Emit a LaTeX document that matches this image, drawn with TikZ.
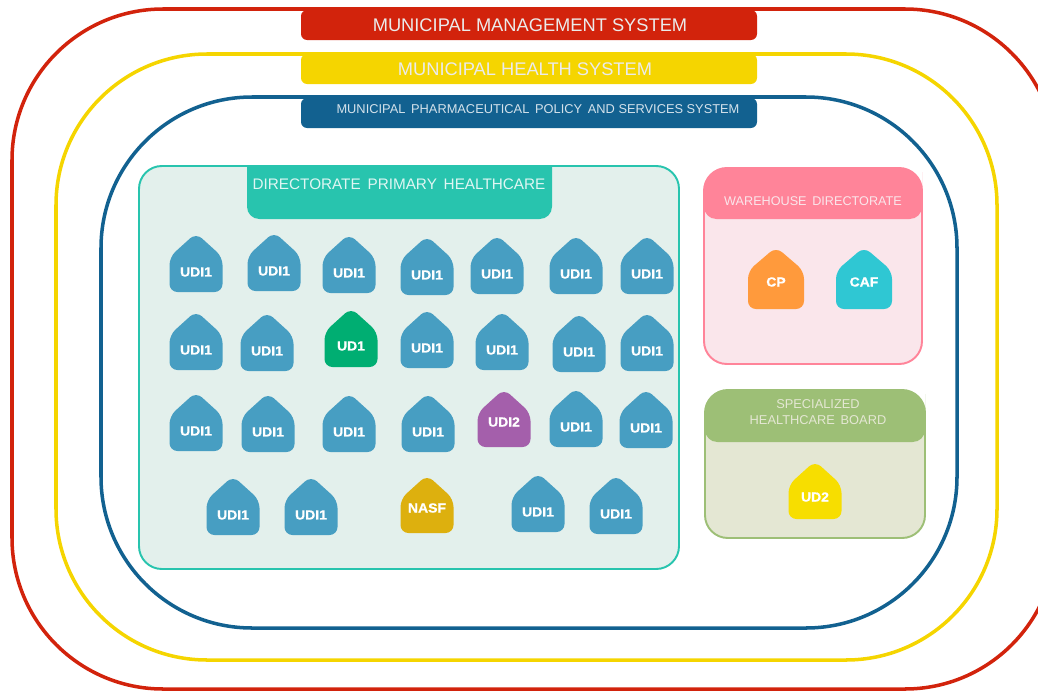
\documentclass[tikz,border=0pt]{standalone}
\usepackage{fontspec}
\setmainfont{Liberation Sans}
\newfontfamily\unitfont{Liberation Sans Bold}[FakeBold=0.9, FakeStretch=1.06]
\definecolor{mgmtred}{HTML}{D2230C}
\definecolor{healthyellow}{HTML}{F5D500}
\definecolor{pharmablue}{HTML}{126190}
\definecolor{primteal}{HTML}{28C4AE}
\definecolor{primfill}{HTML}{E3F0EC}
\definecolor{wardpink}{HTML}{FF8499}
\definecolor{wardfill}{HTML}{FAE6EB}
\definecolor{specgreen}{HTML}{9DBF76}
\definecolor{specfill}{HTML}{E4E7D3}
\definecolor{udiblue}{HTML}{479EC2}
\definecolor{udgreen}{HTML}{00AE72}
\definecolor{udpurple}{HTML}{A45FAB}
\definecolor{nasfgold}{HTML}{DDB00E}
\definecolor{cporange}{HTML}{FF9A3C}
\definecolor{cafcyan}{HTML}{2FC7D3}
\definecolor{udyellow}{HTML}{F7DE00}
\tikzstyle{system}=[line width=2pt, rounded corners=86pt]
\tikzstyle{banner}=[rounded corners=3.5pt]
\tikzstyle{board}=[line width=1.1pt, rounded corners=13pt]
\tikzstyle{banner text}=[text=white!92!black, font=\fontsize{10.4}{12}\selectfont, align=center, inner sep=0]
\tikzstyle{small banner text}=[banner text, font=\fontsize{7.3}{9}\selectfont]
\tikzstyle{unit text}=[text=white, font=\unitfont\fontsize{7.5}{9}\selectfont, inner sep=0]
\tikzstyle{unit house}=[rounded corners=4.5pt]

\begin{document}
\begin{tikzpicture}[x=0.02cm, y=-0.02cm]
      \clip (0, 0) rectangle (1038, 690);

      \draw[system, mgmtred] (12, 9) rectangle (1056, 689);
      \draw[system, healthyellow] (56, 54) rectangle (997, 660);
      \draw[system, pharmablue] (101, 97) rectangle (957, 628);

      \fill[banner, mgmtred] (301, 10) rectangle (757, 40);
      \fill[banner, healthyellow] (301, 54) rectangle (757, 84);
      \fill[banner, pharmablue] (301, 98) rectangle (757, 128);
      \node[banner text] (mgmt) at (530, 25) {MUNICIPAL MANAGEMENT SYSTEM};
      \node[banner text] (health) at (525, 69) {MUNICIPAL HEALTH SYSTEM};
      \node[small banner text, text=white!82!pharmablue] (pharma) at (538, 109) {MUNICIPAL\, PHARMACEUTICAL\, POLICY\, AND SERVICES SYSTEM};

      \draw[board, primteal, fill=primfill] (139, 166) rectangle (679, 569);
      \fill[primteal, rounded corners=7pt] (247, 166) -- (247, 219) -- (552, 219) -- (552, 166);
      \node[banner text, text=white!85!primteal, font=\fontsize{8.7}{11}\selectfont] (primary) at (399, 184) {DIRECTORATE\, PRIMARY\, HEALTHCARE};

      \draw[board, wardpink, fill=wardfill] (704, 168) rectangle (922, 364);
      \fill[wardpink] (704, 195) [rounded corners=13pt] -- (704, 168) -- (922, 168) -- (922, 195)
        [rounded corners=7pt] -- (922, 219) -- (704, 219) -- cycle;
      \node[small banner text, text=wardfill, font=\fontsize{7.2}{9}\selectfont] (ward) at (813, 201) {WAREHOUSE\, DIRECTORATE};

      \draw[board, specgreen, fill=specfill] (705, 390) rectangle (925, 538);
      \fill[specgreen] (705, 417) [rounded corners=13pt] -- (705, 390) -- (925, 390) -- (925, 417)
        [rounded corners=7pt] -- (925, 442) -- (705, 442) -- cycle;
      \node[small banner text, text=specfill, font=\fontsize{7.3}{9.2}\selectfont] (spec) at (818, 412) {SPECIALIZED\\HEALTHCARE\, BOARD};

      % the blue units, all of one size
      \foreach \x/\y [count=\i] in {
          196/272, 274/271, 349/273, 427/275, 497/274, 576/274, 647/274,
          196/350, 267/351, 427/348, 502/350, 579/352, 647/351,
          196/431, 268/432, 349/432, 428/432, 576/427, 646/428,
          233/515, 311/515, 538/512, 616/514} {
        \fill[unit house, udiblue] (\x-26.5, \y-15) -- (\x, \y-39) -- (\x+26.5, \y-15)
          -- (\x+26.5, \y+20) -- (\x-26.5, \y+20) -- cycle;
        \node[unit text] (udi\i) at (\x, \y) {UDI1};
      }

      % the other units: half width, apex above the text, base below it
      \foreach \x/\y/\lab/\col/\hw/\up/\dn in {
          351/346/UD1/udgreen/26.5/38/21, 504/422/UDI2/udpurple/26.5/33/25,
          427/508/NASF/nasfgold/26.5/33/25, 776/282/CP/cporange/28/35/27,
          864/282/CAF/cafcyan/28/35/27, 815/497/UD2/udyellow/26.5/36/22} {
        \fill[unit house, \col] (\x-\hw, \y-\up+24) -- (\x, \y-\up) -- (\x+\hw, \y-\up+24)
          -- (\x+\hw, \y+\dn) -- (\x-\hw, \y+\dn) -- cycle;
        \node[unit text] (unit\lab) at (\x, \y) {\lab};
      }
    \end{tikzpicture}
\end{document}
